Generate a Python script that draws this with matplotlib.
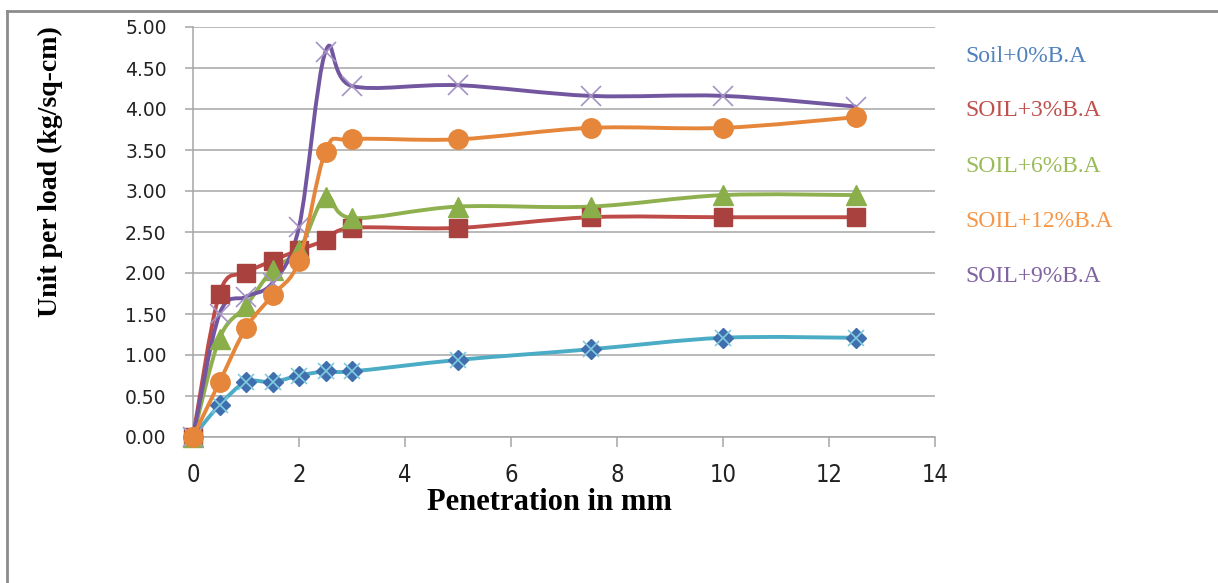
import numpy as np
import matplotlib.pyplot as plt
from matplotlib.path import Path
from matplotlib.patches import PathPatch
from matplotlib.lines import Line2D

# penetration readings (mm)
penetration = [0, 0.5, 1, 1.5, 2, 2.5, 3, 5, 7.5, 10, 12.5]

# unit load (kg/sq-cm) for each mix
soil_0 = [0, 0.39, 0.67, 0.67, 0.75, 0.80, 0.80, 0.94, 1.07, 1.21, 1.21]
soil_3 = [0, 1.75, 2.00, 2.15, 2.28, 2.40, 2.55, 2.55, 2.68, 2.68, 2.68]
soil_6 = [0, 1.20, 1.60, 2.04, 2.28, 2.93, 2.67, 2.81, 2.81, 2.95, 2.95]
soil_9 = [0, 1.50, 1.71, 1.88, 2.56, 4.70, 4.28, 4.29, 4.16, 4.16, 4.03]
soil_12 = [0, 0.67, 1.33, 1.73, 2.15, 3.48, 3.63, 3.63, 3.77, 3.77, 3.90]

legend_labels = ["Soil+0%B.A", "SOIL+3%B.A", "SOIL+6%B.A", "SOIL+12%B.A", "SOIL+9%B.A"]
legend_colors = ["#4F81BD", "#C0504D", "#9BBB59", "#F79646", "#8064A2"]

W, H = 1218, 583
fig = plt.figure(figsize=(W / 100, H / 100), dpi=100)
ax = fig.add_axes([193 / W, (H - 437) / H, (935 - 193) / W, (437 - 27) / H])


def smooth_line(x, y, color, lw=2.8, z=3):
    # excel style smoothed line: bezier segments with catmull-rom controls
    x = np.asarray(x, float)
    y = np.asarray(y, float)
    px = np.concatenate([[x[0]], x, [x[-1]]])
    py = np.concatenate([[y[0]], y, [y[-1]]])
    verts = [(x[0], y[0])]
    codes = [Path.MOVETO]
    for i in range(1, len(px) - 2):
        c1 = (px[i] + (px[i + 1] - px[i - 1]) / 6, py[i] + (py[i + 1] - py[i - 1]) / 6)
        c2 = (px[i + 1] - (px[i + 2] - px[i]) / 6, py[i + 1] - (py[i + 2] - py[i]) / 6)
        verts += [c1, c2, (px[i + 1], py[i + 1])]
        codes += [Path.CURVE4] * 3
    ax.add_patch(PathPatch(Path(verts, codes), fill=False, edgecolor=color, lw=lw,
                           zorder=z, capstyle="round", joinstyle="round", clip_on=False))


def markers(x, y, **kw):
    ax.plot(x, y, ls="none", clip_on=False, **kw)


# Soil+0% (blue diamonds under a teal line with x marks)
smooth_line(penetration, soil_0, "#4BACC6", z=3)
markers(penetration, soil_0, marker="D", ms=10.5, color="#3F6FAE", zorder=4)
markers(penetration, soil_0, marker="x", ms=12, mew=1.2, color="#7FCBDD", zorder=5)

# 3%
smooth_line(penetration, soil_3, "#BE4B48", z=3)
markers(penetration, soil_3, marker="s", ms=12.5, color="#A9423F", zorder=4)

# 6%
smooth_line(penetration, soil_6, "#8FB04F", z=3)
markers(penetration, soil_6, marker="^", ms=14, color="#8AAE4A", zorder=4)

# 9%
smooth_line(penetration, soil_9, "#7356A0", z=3)
markers(penetration, soil_9, marker="x", ms=14, mew=1.2, color="#A593C6", zorder=4)

# 12%
smooth_line(penetration, soil_12, "#E5863A", z=6)
markers(penetration, soil_12, marker="o", ms=14, color="#E5863A", zorder=6)

ax.set_xlim(0, 14)
ax.set_ylim(0, 5)
ax.set_xticks(np.arange(0, 15, 2))
ax.set_yticks(np.arange(0, 5.01, 0.5))
ax.set_yticklabels([f"{v:.2f}" for v in np.arange(0, 5.01, 0.5)])
ax.grid(axis="y", color="#A6A6A6", lw=1.1)
ax.set_axisbelow(True)
for s in ["top", "right"]:
    ax.spines[s].set_visible(False)
for s in ["left", "bottom"]:
    ax.spines[s].set_color("#A6A6A6")
    ax.spines[s].set_linewidth(1.1)
ax.tick_params(axis="y", direction="out", length=6, width=1.1, color="#A6A6A6",
               pad=13, labelsize=13.5, labelcolor="#222222")
ax.tick_params(axis="x", direction="out", length=7, width=1.1, color="#A6A6A6",
               pad=12, labelsize=17, labelcolor="#222222")
for lab in ax.get_xticklabels():
    lab.set_family("DejaVu Sans")
    lab.set_stretch("condensed")
for lab in ax.get_yticklabels():
    lab.set_family("DejaVu Sans")

# axis titles
fig.text(50 / W, 1 - 172 / H, "Unit per load (kg/sq-cm)", rotation=90, ha="center",
         va="center", family="Liberation Serif", weight="bold", fontsize=20)
fig.text(549 / W, 1 - 502 / H, "Penetration in mm", ha="center", va="center",
         family="Liberation Serif", weight="bold", fontsize=22)

# text legend
for i, (lab, col) in enumerate(zip(legend_labels, legend_colors)):
    fig.text(965 / W, 1 - (56 + 55 * i) / H, lab, color=col, ha="left", va="center",
             family="Liberation Serif", fontsize=17)

# chart frame (top and left edges)
fig.add_artist(Line2D([7 / W, 1], [1 - 11 / H, 1 - 11 / H], color="#8C8C8C", lw=2))
fig.add_artist(Line2D([7 / W, 7 / W], [0, 1 - 11 / H], color="#8C8C8C", lw=2))

fig.savefig("out.png", dpi=100)
